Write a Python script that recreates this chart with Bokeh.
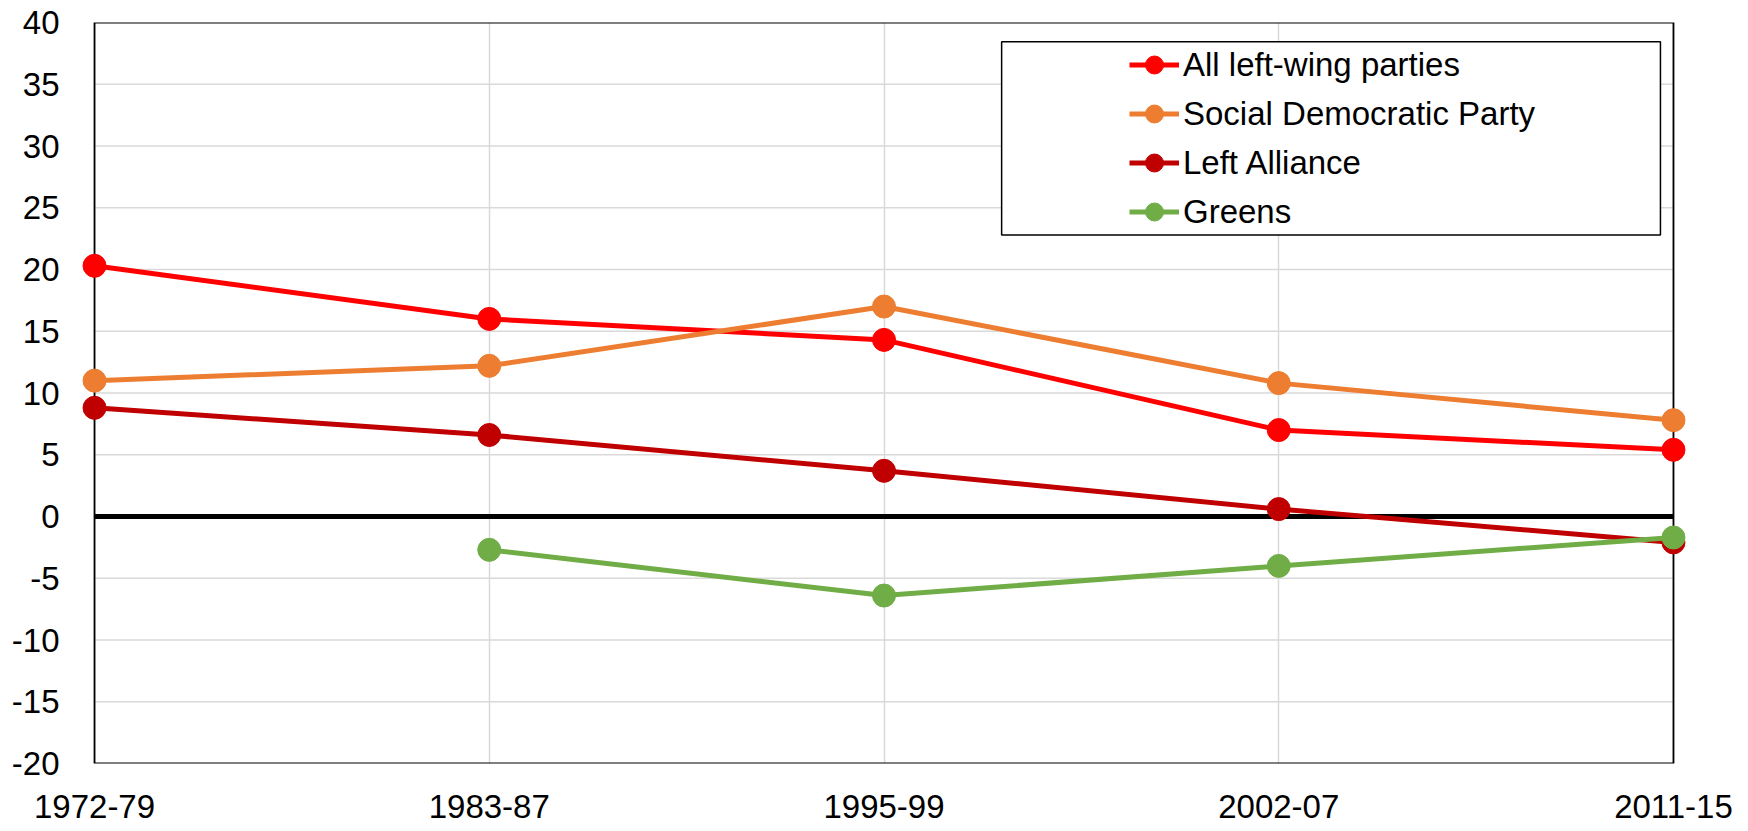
from bokeh.plotting import figure
from bokeh.models import (Range1d, FixedTicker, BoxAnnotation, Legend, LegendItem)
from bokeh.embed import file_html
from bokeh.resources import INLINE

# ---- data ----
periods = ["1972-79", "1983-87", "1995-99", "2002-07", "2011-15"]
all_left = [20.3, 16.0, 14.3, 7.0, 5.4]
social_democratic = [11.0, 12.2, 17.0, 10.8, 7.8]
left_alliance = [8.8, 6.6, 3.7, 0.6, -2.1]
greens = [None, -2.7, -6.4, -4.0, -1.7]
series_names = ["All left-wing parties", "Social Democratic Party", "Left Alliance", "Greens"]
series_colors = ["#FF0000", "#ED7D31", "#C00000", "#70AD47"]
y_ticks = [-20, -15, -10, -5, 0, 5, 10, 15, 20, 25, 30, 35, 40]

FONT = "Liberation Sans"
n = len(periods)
xs = list(range(n))
pad = 0.033

p = figure(width=1740, height=827,
           x_range=Range1d(-pad, n - 1 + pad), y_range=Range1d(y_ticks[0], y_ticks[-1]),
           output_backend="svg", toolbar_location=None,
           min_border_left=81, min_border_right=54, min_border_top=22, min_border_bottom=64)
p.outline_line_color = None
p.background_fill_color = "white"
p.border_fill_color = "white"

# axes
p.xaxis.ticker = FixedTicker(ticks=xs)
p.xaxis.major_label_overrides = {i: lab for i, lab in enumerate(periods)}
p.yaxis.ticker = FixedTicker(ticks=y_ticks)
p.yaxis.major_label_overrides = {t: str(t) for t in y_ticks}
for ax in (p.xaxis[0], p.yaxis[0]):
    ax.axis_line_color = None
    ax.major_tick_line_color = None
    ax.minor_tick_line_color = None
    ax.major_label_text_font = FONT
    ax.major_label_text_font_size = "33px"
    ax.major_label_text_color = "black"
p.xaxis.major_label_standoff = 25
p.yaxis.major_label_standoff = 16

# grids
p.xgrid.ticker = FixedTicker(ticks=xs)
p.xgrid.grid_line_color = "#D9D9D9"
p.xgrid.grid_line_width = 1.5
p.ygrid.visible = False
grid_y = [t for t in y_ticks if t not in (y_ticks[0], y_ticks[-1], 0)]
p.segment(x0=[0] * len(grid_y), x1=[n - 1] * len(grid_y), y0=grid_y, y1=grid_y,
          line_color="#D9D9D9", line_width=1.5, level="underlay")

# plot-area border
border = BoxAnnotation(left=0, right=n - 1, bottom=y_ticks[0], top=y_ticks[-1],
                       fill_color=None, fill_alpha=0, line_color="black", line_alpha=1.0,
                       line_width=1.8, level="underlay")
p.add_layout(border)

# zero line
p.segment(x0=[0], x1=[n - 1], y0=[0], y1=[0], line_color="black", line_width=5)

# series
items = []
for name, color, vals in zip(series_names, series_colors,
                             [all_left, social_democratic, left_alliance, greens]):
    ys = [float("nan") if v is None else v for v in vals]
    lr = p.line(xs, ys, line_color=color, line_width=5)
    sr = p.scatter(xs, ys, size=23, fill_color=color, line_color=color)
    items.append(LegendItem(label=name, renderers=[lr, sr]))

# legend box (white, black frame)
box = BoxAnnotation(left=2.298, right=3.967, bottom=22.8, top=38.45,
                    fill_color="white", fill_alpha=1.0, line_color="black", line_alpha=1.0,
                    line_width=1.5)
p.add_layout(box)

legend = Legend(items=items, location=(1048, 529), padding=0, margin=0,
                border_line_color=None, background_fill_alpha=0,
                glyph_width=50, glyph_height=45, label_height=45, spacing=4,
                label_standoff=4, label_text_font=FONT, label_text_font_size="33px",
                label_text_color="black")
p.add_layout(legend, "center")

open("out.html", "w").write(file_html(p, INLINE))
